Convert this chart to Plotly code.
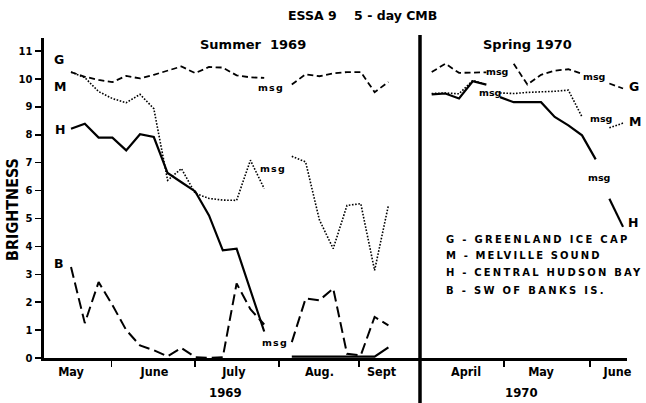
import plotly.graph_objects as go

# ---------------- data (5-day periods) ----------------
# Summer 1969 panel: period index 0..23
left_idx = list(range(24))
G_summer = [10.25, 10.08, 9.97, 9.89, 10.11, 10.02, 10.15, 10.3, 10.45, 10.21, 10.43, 10.41,
            10.13, 10.06, 10.04, None, 9.8, 10.17, 10.1, 10.2, 10.25, 10.25, 9.53, 9.89]
M_summer = [10.25, 10.05, 9.55, 9.3, 9.15, 9.45, 8.94, 6.37, 6.79, 5.9, 5.72, 5.66,
            5.65, 7.09, 6.07, None, 7.23, 7.03, 4.95, 3.92, 5.47, 5.53, 3.14, 5.47]
H_summer_idx = [0, 1, 2, 3, 4, 5, 6, 7, 8, 9, 10, 11, 12, 14, 15, 16, 17, 18, 19, 20, 21, 22, 23]
H_summer = [8.22, 8.4, 7.9, 7.9, 7.44, 8.02, 7.92, 6.63, 6.3, 5.97, 5.11, 3.86, 3.92, 0.95,
            None, 0.05, 0.05, 0.05, 0.05, 0.05, 0.05, 0.05, 0.38]
B_summer = [3.26, 1.25, 2.72, 1.9, 1.0, 0.45, 0.28, 0.06, 0.36, 0.03, 0.0, 0.03,
            2.67, 1.75, 1.2, None, 0.57, 2.13, 2.07, 2.49, 0.15, 0.1, 1.47, 1.17]

# Spring 1970 panel: period index 0..14 (None = missing / "msg")
G_spring_idx = list(range(15))
G_spring = [10.25, 10.55, 10.22, 10.22, 10.24, None, 10.55, 9.8, 10.15, 10.3, 10.35, 10.19,
            None, 9.84, 9.66]
M_spring_idx = [0, 1, 2, 3, 4, 4.5, 5, 6, 7, 8, 9, 10, 11, 12, 13, 14]
M_spring = [9.48, 9.5, 9.47, 9.95, 9.8, None, 9.5, 9.48, 9.52, 9.53, 9.56, 9.6, 8.64,
            None, 8.25, 8.42]
H_spring_idx = [0, 1, 2, 3, 4, 4.5, 5, 6, 7, 8, 9, 10, 11, 12, 12.5, 13, 14]
H_spring = [9.45, 9.48, 9.3, 9.92, 9.8, None, 9.35, 9.17, 9.17, 9.17, 8.64, 8.34, 7.98,
            7.12, None, 5.71, 4.7]

summer_months = ["May", "June", "July", "Aug.", "Sept"]
summer_month_pos = [0, 6.05, 11.8, 18.0, 22.5]
summer_month_bounds = [2.93, 8.99, 15.07, 20.87]
spring_months = ["April", "May", "June"]
spring_month_pos = [2.51, 8.0, 13.59]
spring_month_bounds = [5.29, 11.59]
y_ticks = list(range(12))

legend_lines = ["G - GREENLAND ICE CAP", "M - MELVILLE SOUND",
                "H - CENTRAL HUDSON BAY", "B - SW OF BANKS IS."]

# ---------------- figure ----------------
W, H = 646, 403
ML, MR, MT, MB = 44, 19, 38, 45
PW, PH = W - ML - MR, H - MT - MB
SPLIT = (420 - ML) / PW


def px(x):
    return (x - ML) / PW


def py(y):
    return (H - MB - y) / PH


FUT = "DejaVu Sans"
NAR = "Liberation Sans Narrow, DejaVu Sans Condensed, Roboto Condensed, Roboto, sans-serif"

fig = go.Figure()

styles = {
    "G": dict(color="black", width=1.8, dash="6px,3.5px"),
    "M": dict(color="black", width=1.6, dash="1.6px,1.6px"),
    "H": dict(color="black", width=2.2),
    "B": dict(color="black", width=2.0, dash="11px,5px"),
}

for xs, ys, key in [(left_idx, G_summer, "G"), (left_idx, M_summer, "M"),
                    (H_summer_idx, H_summer, "H"), (left_idx, B_summer, "B")]:
    fig.add_trace(go.Scatter(x=xs, y=ys, mode="lines", line=styles[key],
                             xaxis="x", yaxis="y", showlegend=False,
                             connectgaps=False, hoverinfo="skip"))

for xs, ys, key in [(G_spring_idx, G_spring, "G"), (M_spring_idx, M_spring, "M"),
                    (H_spring_idx, H_spring, "H")]:
    fig.add_trace(go.Scatter(x=xs, y=ys, mode="lines", line=styles[key],
                             xaxis="x2", yaxis="y", showlegend=False,
                             connectgaps=False, hoverinfo="skip"))

tickfont_x = dict(family=NAR, size=12.5, color="black", weight="bold")

fig.update_layout(
    width=W, height=H,
    margin=dict(l=ML, r=MR, t=MT, b=MB),
    paper_bgcolor="white", plot_bgcolor="white",
    xaxis=dict(domain=[0, SPLIT], range=[-1.957, 25.29], anchor="y",
               tickmode="array", tickvals=summer_month_pos, ticktext=summer_months,
               ticks="", showline=True, linecolor="black", linewidth=2.5,
               showgrid=False, zeroline=False, tickfont=tickfont_x,
               minor=dict(tickmode="array", tickvals=summer_month_bounds,
                          ticks="outside", ticklen=6, tickwidth=1.5,
                          tickcolor="black", showgrid=False)),
    xaxis2=dict(domain=[SPLIT, 1], range=[-0.857, 14.29], anchor="y",
                tickmode="array", tickvals=spring_month_pos, ticktext=spring_months,
                ticks="", showline=True, linecolor="black", linewidth=2.5,
                showgrid=False, zeroline=False, tickfont=tickfont_x,
                minor=dict(tickmode="array", tickvals=spring_month_bounds,
                           ticks="outside", ticklen=6, tickwidth=1.5,
                           tickcolor="black", showgrid=False)),
    yaxis=dict(domain=[0, 1], range=[0, 11.47], anchor="x",
               tickmode="array", tickvals=y_ticks,
               ticks="outside", ticklen=6, tickwidth=1.5, tickcolor="black",
               showline=True, linecolor="black", linewidth=3.5,
               showgrid=False, zeroline=False,
               tickfont=dict(family=FUT, size=10, color="black", weight="bold")),
)

# divider between the two seasons
fig.add_shape(type="line", xref="paper", yref="paper",
              x0=SPLIT, x1=SPLIT, y0=py(403), y1=py(35),
              line=dict(color="black", width=3.5))

ann = []


def text(x, y, s, size, family=FUT, angle=0, xanchor="center", bold=True):
    ann.append(dict(x=px(x), y=py(y), xref="paper", yref="paper", text=s,
                    showarrow=False, xanchor=xanchor, yanchor="middle",
                    textangle=angle,
                    font=dict(family=family, size=size, color="black",
                              weight="bold" if bold else "normal")))


text(362, 15, "ESSA 9    5 - day CMB", 12.5)
text(252.5, 44, "Summer  1969", 13)
text(527.5, 45, "Spring 1970", 13)
text(12, 210, "BRIGHTNESS", 16, family=NAR, angle=-90)
text(225, 392.5, "1969", 13, family=NAR)
text(521.7, 392.5, "1970", 13, family=NAR)

for (x, y, s) in [(59, 59, "G"), (59.5, 87, "M"), (60, 129.5, "H"), (59, 263.5, "B"),
                  (634, 87, "G"), (634.5, 122, "M"), (633, 222, "H")]:
    text(x, y, s, 12.5)

for (x, y) in [(270.5, 87.5), (272.5, 168), (275, 342)]:
    text(x, y, '<span style="letter-spacing:1.2px">msg</span>', 9.5)
for (x, y) in [(497, 71.5), (490, 92.5), (594, 76), (601, 118.5), (598.5, 177.5)]:
    text(x, y, "msg", 9.5)

for s, y, sp in zip(legend_lines, [239.7, 255.5, 272, 290], [2.3, 2.1, 2.2, 2.3]):
    text(444, y, '<span style="letter-spacing:%.2fpx">' % sp + s + '</span>', 10,
         xanchor="left")

fig.update_layout(annotations=ann)

fig.write_html("out.html",
               config={"displayModeBar": False, "staticPlot": True},
               post_script="document.body.style.margin='0px';"
                           "document.body.style.padding='0px';")
